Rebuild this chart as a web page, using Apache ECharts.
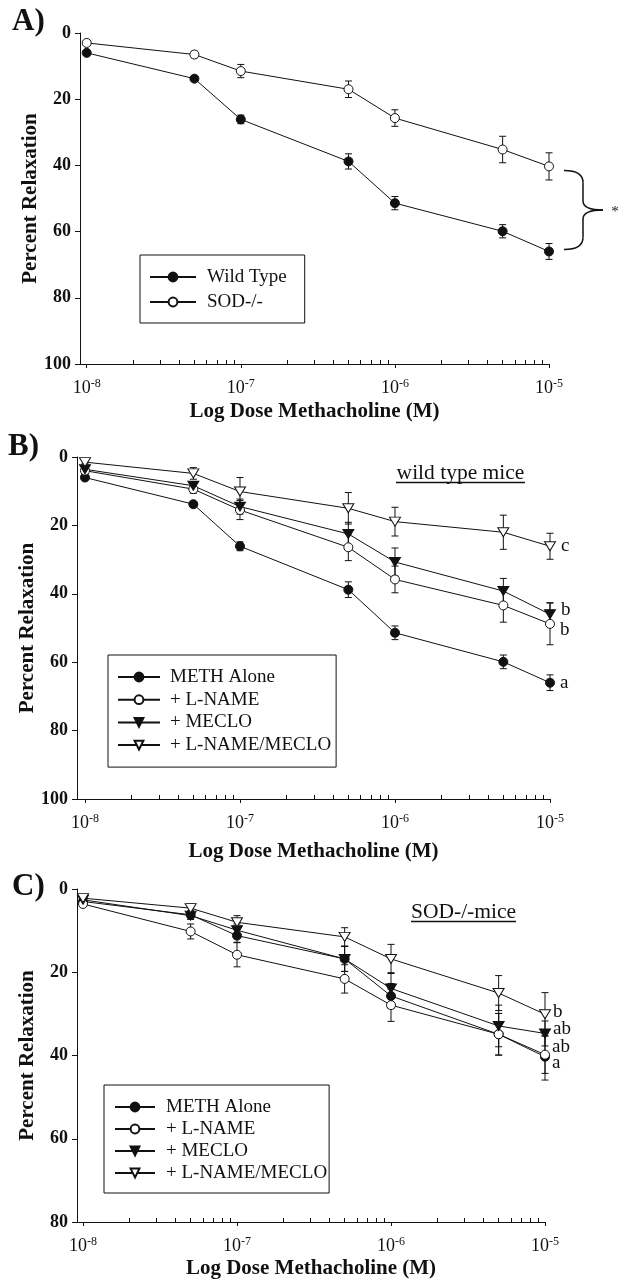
<!DOCTYPE html>
<html>
<head>
<meta charset="utf-8">
<title>Methacholine relaxation</title>
<script src="https://cdn.jsdelivr.net/npm/echarts@6.0.0/dist/echarts.min.js"></script>
<style>
  html, body { margin: 0; padding: 0; background: #fff; }
  #chart { width: 618px; height: 1280px; }
</style>
</head>
<body>
<div id="chart"></div>
<script>
// methacholine doses (M)
var doses = [1e-8, 5e-8, 1e-7, 5e-7, 1e-6, 5e-6, 1e-5];
var decadeTicks = [1e-8, 1e-7, 1e-6, 1e-5];
var minorDecades = [1e-8, 1e-7, 1e-6];
var minorSteps = [2, 3, 4, 5, 6, 7, 8, 9];

// A) wild type vs SOD-/-
var wildType = [6.0, 13.8, 26.1, 38.8, 51.4, 59.9, 66.0];
var wildTypeErr = [0.5, 0.6, 1.3, 2.3, 2.0, 2.0, 2.4];
var sodKO = [3.0, 6.5, 11.5, 17.0, 25.7, 35.2, 40.3];
var sodKOErr = [0.4, 1.0, 2.0, 2.5, 2.5, 4.0, 4.1];

// B) wild type mice
var wtMeth = [6.0, 13.8, 26.1, 38.8, 51.4, 59.9, 66.0];
var wtMethErr = [0.5, 0.6, 1.3, 2.3, 2.0, 2.0, 2.3];
var wtLname = [4.0, 9.4, 15.5, 26.4, 35.8, 43.4, 48.8];
var wtLnameErr = [0.6, 1.2, 2.8, 3.9, 3.9, 4.9, 6.1];
var wtMeclo = [3.6, 8.4, 14.5, 22.5, 30.7, 39.2, 46.0];
var wtMecloErr = [0.5, 1.2, 2.2, 3.4, 4.1, 3.7, 3.4];
var wtBoth = [1.5, 4.8, 10.1, 15.0, 18.9, 22.0, 26.1];
var wtBothErr = [0.5, 1.7, 4.1, 4.6, 4.2, 5.0, 3.8];
var wtLetters = ["a", "b", "b", "c"];

// C) SOD-/- mice
var sodMeth = [3.0, 6.2, 11.2, 16.8, 25.7, 34.9, 40.3];
var sodMethErr = [0.4, 1.0, 1.6, 3.0, 3.0, 5.0, 5.6];
var sodLname = [3.6, 10.2, 15.8, 21.6, 27.9, 34.9, 39.8];
var sodLnameErr = [0.5, 1.8, 2.9, 3.4, 3.9, 5.0, 4.5];
var sodMeclo = [2.6, 6.4, 9.9, 16.8, 23.9, 32.9, 34.7];
var sodMecloErr = [0.4, 0.9, 1.5, 3.0, 3.8, 5.0, 3.0];
var sodBoth = [2.2, 4.6, 8.0, 11.5, 16.8, 25.0, 30.1];
var sodBothErr = [0.4, 1.0, 1.6, 2.2, 3.5, 4.2, 5.2];
var sodLetters = ["a", "ab", "ab", "b"];

var groupNames = ["METH Alone", "+ L-NAME", "+ MECLO", "+ L-NAME/MECLO"];
var serif = "Liberation Serif";
var ink = "#111";

var minorTicks = [];
minorDecades.forEach(function (d) {
	minorSteps.forEach(function (m) {
		minorTicks.push(m * d);
	});
});

var panels = [
	{ left: 80, top: 33, width: 469, height: 331, minExp: -8.0435, ymax: 100, nameGap: 37 },
	{ left: 77, top: 457, width: 473, height: 342, minExp: -8.0516, ymax: 100, nameGap: 42 },
	{ left: 77, top: 889, width: 468, height: 334, minExp: -8.039, ymax: 80, nameGap: 36 },
];

var xAxes = [];
var yAxes = [];
panels.forEach(function (p, i) {
	var xmin = Math.pow(10, p.minExp);
	xAxes.push({
		type: "log",
		gridIndex: i,
		min: xmin,
		max: 1e-5,
		position: "bottom",
		name: "Log Dose Methacholine (M)",
		nameLocation: "middle",
		nameGap: p.nameGap,
		nameMoveOverlap: false,
		nameTextStyle: { fontFamily: serif, fontSize: 21, fontWeight: "bold", color: ink },
		axisLine: { onZero: false, lineStyle: { color: ink, width: 1 } },
		axisTick: { show: true, length: 4, lineStyle: { color: ink }, customValues: decadeTicks },
		axisLabel: {
			customValues: decadeTicks,
			margin: 14,
			fontFamily: serif,
			fontSize: 18,
			color: ink,
			formatter: function (v) {
				return "10{sup|" + Math.round(Math.log10(v)) + "}";
			},
			rich: { sup: { fontFamily: serif, fontSize: 12, color: ink, padding: [0, 0, 9, 0] } },
		},
		splitLine: { show: false },
	});
	// minor log ticks pointing into the plot
	xAxes.push({
		type: "log",
		gridIndex: i,
		min: xmin,
		max: 1e-5,
		position: "bottom",
		axisLine: { show: false, onZero: false },
		axisTick: { show: true, inside: true, length: 4, lineStyle: { color: ink }, customValues: minorTicks },
		axisLabel: { show: false },
		splitLine: { show: false },
	});
	yAxes.push({
		type: "value",
		gridIndex: i,
		inverse: true,
		min: 0,
		max: p.ymax,
		interval: 20,
		name: "Percent Relaxation",
		nameLocation: "middle",
		nameGap: 39,
		nameMoveOverlap: false,
		nameTextStyle: { fontFamily: serif, fontSize: 21, fontWeight: "bold", color: ink },
		axisLine: { show: true, onZero: false, lineStyle: { color: ink, width: 1 } },
		axisTick: { show: true, length: 5, lineStyle: { color: ink } },
		axisLabel: { margin: 9, fontFamily: serif, fontSize: 18, fontWeight: "bold", color: ink },
		splitLine: { show: false },
	});
});

function lineSeries(name, vals, panel, shape, filled, letter, dy, dist) {
	var data = doses.map(function (d, i) {
		if (letter && i === doses.length - 1) {
			return {
				value: [d, vals[i]],
				label: {
					show: true,
					position: "right",
					distance: dist,
					offset: [0, dy],
					formatter: letter,
					fontFamily: serif,
					fontSize: 19,
					color: ink,
				},
			};
		}
		return [d, vals[i]];
	});
	return {
		name: name,
		type: "line",
		xAxisIndex: panel * 2,
		yAxisIndex: panel,
		data: data,
		symbol: shape === "tri" ? "triangle" : "circle",
		symbolSize: shape === "tri" ? [11, 9] : 9,
		symbolRotate: shape === "tri" ? 180 : 0,
		showAllSymbol: true,
		lineStyle: { color: ink, width: 1 },
		itemStyle: { color: filled ? ink : "#fff", borderColor: ink, borderWidth: 1 },
		z: 3,
	};
}

function errSeries(vals, errs, panel) {
	return {
		type: "custom",
		xAxisIndex: panel * 2,
		yAxisIndex: panel,
		z: 1,
		silent: true,
		encode: { x: 0, y: [1, 2] },
		data: doses.map(function (d, i) {
			return [d, vals[i] - errs[i], vals[i] + errs[i]];
		}),
		renderItem: function (params, api) {
			var lo = api.coord([api.value(0), api.value(1)]);
			var hi = api.coord([api.value(0), api.value(2)]);
			var w = 3.5;
			var st = { stroke: ink, lineWidth: 1 };
			return {
				type: "group",
				children: [
					{ type: "line", shape: { x1: lo[0], y1: lo[1], x2: hi[0], y2: hi[1] }, style: st },
					{ type: "line", shape: { x1: lo[0] - w, y1: lo[1], x2: lo[0] + w, y2: lo[1] }, style: st },
					{ type: "line", shape: { x1: hi[0] - w, y1: hi[1], x2: hi[0] + w, y2: hi[1] }, style: st },
				],
			};
		},
	};
}

var series = [
	errSeries(wildType, wildTypeErr, 0),
	errSeries(sodKO, sodKOErr, 0),
	lineSeries("Wild Type", wildType, 0, "dot", true),
	lineSeries("SOD-/-", sodKO, 0, "dot", false),

	errSeries(wtMeth, wtMethErr, 1),
	errSeries(wtLname, wtLnameErr, 1),
	errSeries(wtMeclo, wtMecloErr, 1),
	errSeries(wtBoth, wtBothErr, 1),
	lineSeries(groupNames[0], wtMeth, 1, "dot", true, wtLetters[0], 0, 5),
	lineSeries(groupNames[1], wtLname, 1, "dot", false, wtLetters[1], 6, 5),
	lineSeries(groupNames[2], wtMeclo, 1, "tri", true, wtLetters[2], -4, 5),
	lineSeries(groupNames[3], wtBoth, 1, "tri", false, wtLetters[3], 0, 5),

	errSeries(sodMeth, sodMethErr, 2),
	errSeries(sodLname, sodLnameErr, 2),
	errSeries(sodMeclo, sodMecloErr, 2),
	errSeries(sodBoth, sodBothErr, 2),
	lineSeries(groupNames[0], sodMeth, 2, "dot", true, sodLetters[0], 6, 2),
	lineSeries(groupNames[1], sodLname, 2, "dot", false, sodLetters[1], -8, 2),
	lineSeries(groupNames[2], sodMeclo, 2, "tri", true, sodLetters[2], -4, 2),
	lineSeries(groupNames[3], sodBoth, 2, "tri", false, sodLetters[3], -2, 2),
];

function legendBox(names, left, top, pad, iconW, gap, textPad) {
	return {
		data: names,
		orient: "vertical",
		left: left,
		top: top,
		padding: pad,
		itemWidth: iconW,
		itemHeight: 11,
		itemGap: gap,
		borderColor: ink,
		borderWidth: 1,
		selectedMode: false,
		textStyle: { fontFamily: serif, fontSize: 19, color: ink, lineHeight: 20, padding: [0, 0, 0, textPad] },
	};
}

var chart = echarts.init(document.getElementById("chart"));
chart.setOption({
	animation: false,
	backgroundColor: "#fff",
	grid: panels.map(function (p) {
		return { left: p.left, top: p.top, width: p.width, height: p.height, containLabel: false };
	}),
	xAxis: xAxes,
	yAxis: yAxes,
	legend: [
		legendBox(["Wild Type", "SOD-/-"], 140, 255, [12, 18, 11, 9], 46, 5, 6),
		legendBox(groupNames, 108, 655, [12, 5, 12, 9], 42, 2.7, 5),
		legendBox(groupNames, 104, 1085, [12, 2, 10, 10], 40, 2, 6),
	],
	series: series,
});

// panel letters, subtitles and the significance brace
var pTop = chart.convertToPixel({ xAxisIndex: 0, yAxisIndex: 0 }, [doses[6], sodKO[6]]);
var pBot = chart.convertToPixel({ xAxisIndex: 0, yAxisIndex: 0 }, [doses[6], wildType[6]]);
var x0 = pTop[0] + 15;
var yT = pTop[1] + 4;
var yB = pBot[1] - 2;
var yM = (yT + yB) / 2;
var xs = x0 + 19;
var tip = x0 + 39;
var braceStyle = { fill: "none", stroke: ink, lineWidth: 1.5 };

function curve(x1, y1, cx, cy, x2, y2) {
	return { type: "bezierCurve", shape: { x1: x1, y1: y1, cpx1: cx, cpy1: cy, x2: x2, y2: y2 }, style: braceStyle };
}
function seg(x1, y1, x2, y2, w) {
	return { type: "line", shape: { x1: x1, y1: y1, x2: x2, y2: y2 }, style: { stroke: ink, lineWidth: w } };
}

function label(text, x, y, size, bold, align) {
	return {
		type: "text",
		style: {
			text: text,
			x: x,
			y: y,
			fill: ink,
			font: (bold ? "bold " : "") + size + "px '" + serif + "'",
			textAlign: align || "left",
			textVerticalAlign: "middle",
		},
	};
}

chart.setOption({
	graphic: [
		label("A)", 12, 22, 31, true),
		label("B)", 8, 447, 31, true),
		label("C)", 12, 887, 31, true),
		label("wild type mice", 460.5, 473, 21.5, false, "center"),
		seg(396, 482.5, 525, 482.5, 1.5),
		label("SOD-/-mice", 463.5, 912, 21.5, false, "center"),
		seg(411, 921.5, 516, 921.5, 1.5),
		curve(x0, yT, xs, yT, xs, yT + 12),
		seg(xs, yT + 12, xs, yM - 9, 1.5),
		curve(xs, yM - 9, xs, yM, tip, yM),
		curve(tip, yM, xs, yM, xs, yM + 9),
		seg(xs, yM + 9, xs, yB - 12, 1.5),
		curve(xs, yB - 12, xs, yB, x0, yB),
		label("*", tip + 12, yM + 2, 15, false, "center"),
	],
});
</script>
</body>
</html>
